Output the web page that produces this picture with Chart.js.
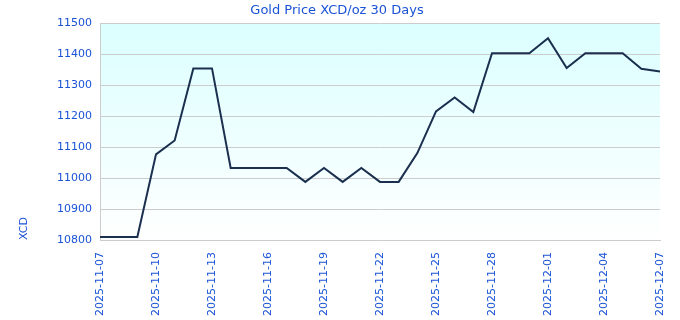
<!DOCTYPE html>
<html>
<head>
<meta charset="utf-8">
<script src="https://cdn.jsdelivr.net/npm/chart.js@4"></script>
<style>
  html, body { margin: 0; padding: 0; background: #fff; }
  #wrap { width: 680px; height: 320px; }
</style>
</head>
<body>
<div id="wrap"><canvas id="myChart"></canvas></div>
<script>
// dates, one per day
var labels = ["2025-11-07", "2025-11-08", "2025-11-09", "2025-11-10", "2025-11-11", "2025-11-12", "2025-11-13",
  "2025-11-14", "2025-11-15", "2025-11-16", "2025-11-17", "2025-11-18", "2025-11-19", "2025-11-20",
  "2025-11-21", "2025-11-22", "2025-11-23", "2025-11-24", "2025-11-25", "2025-11-26", "2025-11-27",
  "2025-11-28", "2025-11-29", "2025-11-30", "2025-12-01", "2025-12-02", "2025-12-03", "2025-12-04",
  "2025-12-05", "2025-12-06", "2025-12-07"];

// gold price in XCD per oz
var prices = [10810, 10810, 10810, 11077, 11122, 11355, 11355,
  11033, 11033, 11033, 11033, 10988, 11033, 10988,
  11033, 10988, 10988, 11081, 11216, 11261, 11214,
  11404, 11404, 11404, 11453, 11356, 11404, 11404,
  11404, 11354, 11345];

var yMin = 10800, yMax = 11500, yStep = 100;
var blue = '#1a53d6';
var font = { family: 'DejaVu Sans', size: 11 };

// light cyan fade behind the plot
var bgPlugin = {
  id: 'bg',
  beforeDraw: function (chart) {
    var a = chart.chartArea, c = chart.ctx;
    var g = c.createLinearGradient(0, a.top, 0, a.bottom);
    g.addColorStop(0, '#dbffff');
    g.addColorStop(1, '#ffffff');
    c.save();
    c.fillStyle = g;
    c.fillRect(a.left, a.top, a.right - a.left, a.bottom - a.top);
    c.restore();
  }
};

var ctx = document.getElementById('myChart').getContext('2d');
var chart = new Chart(ctx, {
  type: 'line',
  data: {
    labels: labels,
    datasets: [{
      label: 'XCD/oz',
      data: prices,
      borderColor: '#1b2f4f',
      borderWidth: 2,
      pointRadius: 0,
      tension: 0,
      fill: false
    }]
  },
  options: {
    responsive: true,
    maintainAspectRatio: false,
    animation: false,
    layout: { padding: { left: 14, right: 20, top: 0, bottom: 0 } },
    plugins: {
      legend: { display: false },
      tooltip: { enabled: false },
      title: {
        display: true,
        text: 'Gold Price XCD/oz 30 Days',
        color: blue,
        font: { family: 'DejaVu Sans', size: 13, weight: 'normal' },
        padding: { top: 3, bottom: 5 }
      }
    },
    scales: {
      x: {
        grid: { display: false, drawTicks: false },
        border: { color: '#cccccc' },
        ticks: {
          color: blue, font: font,
          maxRotation: 90, minRotation: 90,
          autoSkip: false,
          padding: 12,
          callback: function (v, i) { return i % 3 === 0 ? labels[i] : null; }
        },
        afterFit: function (s) { s.height = 80; s.paddingRight = 0; s.paddingLeft = 0; }
      },
      y: {
        min: yMin, max: yMax,
        grid: { color: '#cccccc', drawTicks: false },
        border: { color: '#cccccc' },
        ticks: {
          color: blue, font: font, stepSize: yStep, padding: 8,
          callback: function (v) { return String(v); }
        },
        title: { display: true, text: 'XCD', color: blue, font: font, align: 'start', padding: { top: 4, bottom: 4 } },
        afterFit: function (s) { s.width = 86; }
      }
    }
  },
  plugins: [bgPlugin]
});
</script>
</body>
</html>
